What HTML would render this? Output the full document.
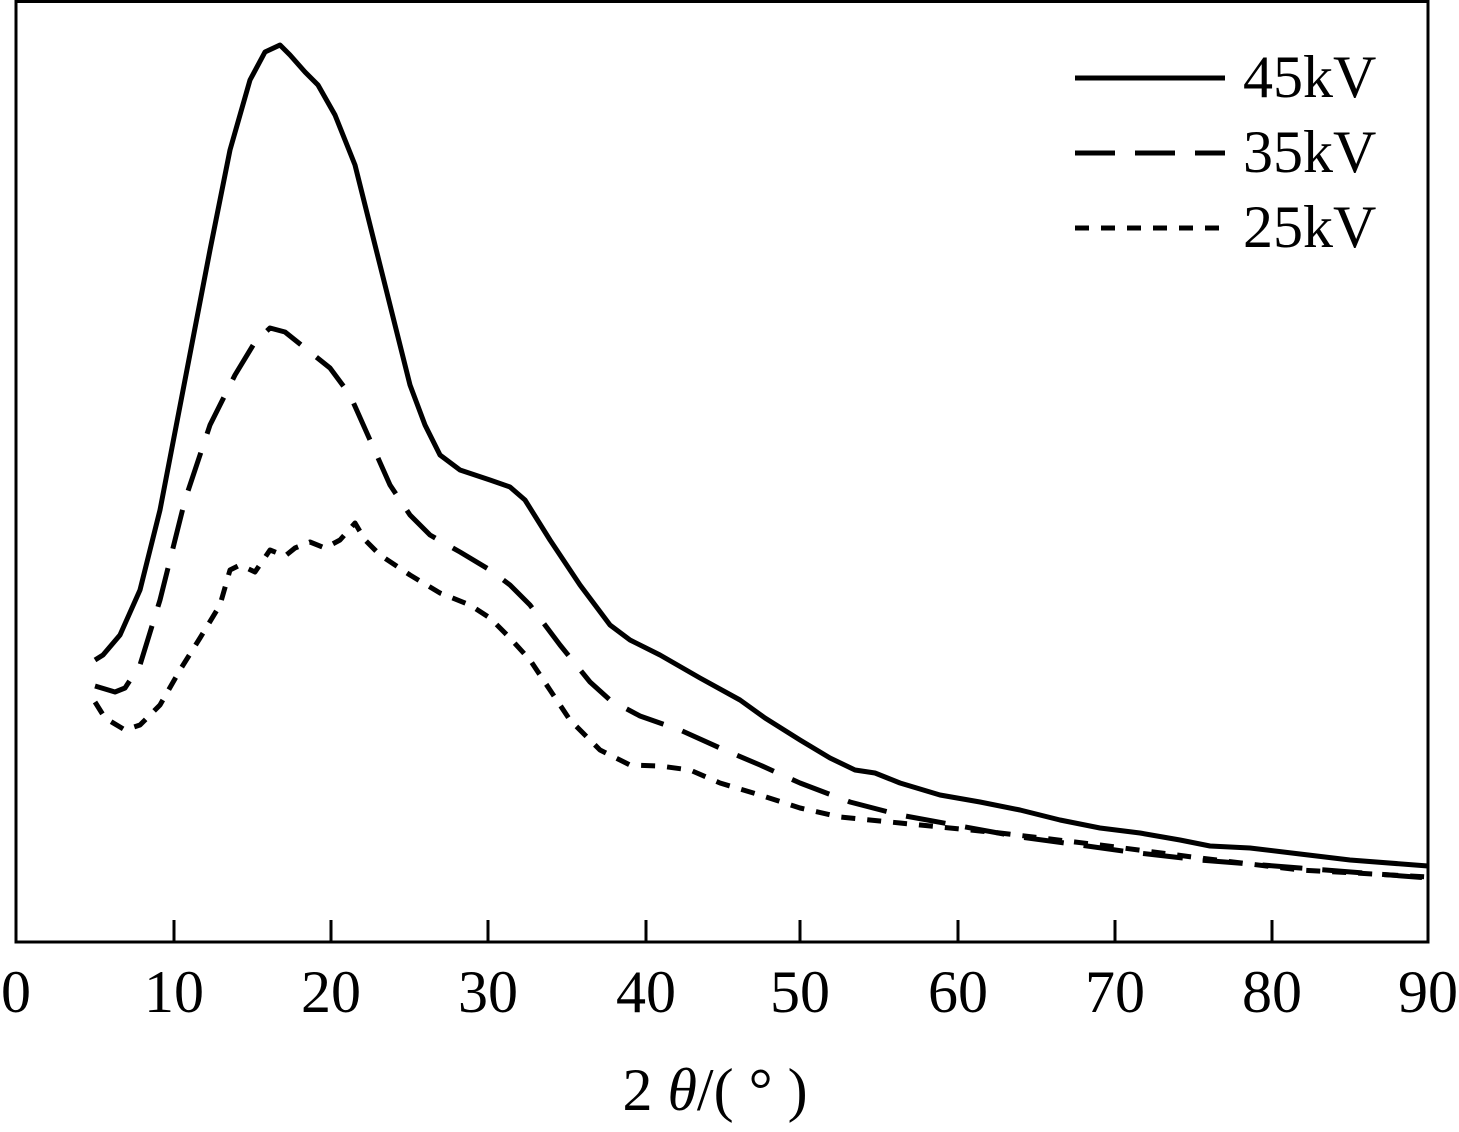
<!DOCTYPE html>
<html><head><style>body{margin:0;background:#fff}</style></head><body>
<svg width="1459" height="1127" xmlns="http://www.w3.org/2000/svg" font-family="Liberation Serif, serif">
<rect x="16" y="1.5" width="1412" height="940.5" fill="none" stroke="#000" stroke-width="3"/>
<g stroke="#000" stroke-width="3">
<line x1="174" y1="920" x2="174" y2="942"/><line x1="331" y1="920" x2="331" y2="942"/><line x1="488" y1="920" x2="488" y2="942"/><line x1="646" y1="920" x2="646" y2="942"/><line x1="800" y1="920" x2="800" y2="942"/><line x1="958" y1="920" x2="958" y2="942"/><line x1="1115" y1="920" x2="1115" y2="942"/><line x1="1272" y1="920" x2="1272" y2="942"/>
</g>
<g font-size="60" text-anchor="middle" fill="#000">
<text x="16" y="1012">0</text><text x="174" y="1012">10</text><text x="331" y="1012">20</text><text x="488" y="1012">30</text><text x="646" y="1012">40</text><text x="800" y="1012">50</text><text x="958" y="1012">60</text><text x="1115" y="1012">70</text><text x="1272" y="1012">80</text><text x="1428" y="1012">90</text>
<text x="715" y="1110">2 <tspan font-style="italic">θ</tspan>/( ° )</text>
</g>
<g fill="none" stroke="#000" stroke-width="5" stroke-linejoin="round">
<polyline points="95,660 103,655 120,635 140,590 160,510 185,380 210,250 230,150 250,80 265,52 280,45 290,55 305,72 318,85 335,115 355,165 370,225 390,305 410,385 425,425 440,455 460,470 490,480 510,487 525,500 550,540 580,585 610,625 630,640 660,655 700,678 740,700 765,718 800,740 830,758 855,770 875,773 900,783 940,795 980,802 1020,810 1060,820 1100,828 1140,833 1180,840 1210,846 1250,848 1300,854 1350,860 1428,866"/>
<polyline stroke-dasharray="40,20" points="95,686 115,692 125,688 140,665 160,600 185,500 210,425 235,375 255,342 270,328 285,332 305,348 330,368 350,395 370,440 390,485 410,515 430,535 460,552 490,570 510,585 530,605 560,645 590,682 610,700 640,716 680,730 720,748 760,765 800,783 850,802 900,815 960,826 1020,837 1080,845 1130,852 1200,860 1300,868 1428,878"/>
<polyline stroke-dasharray="14,12" points="95,702 105,718 125,730 140,725 160,705 180,670 200,638 220,605 230,570 240,565 255,572 270,550 285,556 295,548 310,542 325,548 340,540 355,523 365,540 380,555 410,575 440,593 470,605 490,618 510,638 530,660 550,690 570,720 600,750 630,765 660,766 690,770 720,783 760,795 800,808 840,817 900,823 1000,833 1100,845 1200,858 1300,870 1428,877"/>
<line x1="1075" y1="78" x2="1225" y2="78"/>
<line x1="1075" y1="153" x2="1225" y2="153" stroke-dasharray="40,20"/>
<line x1="1075" y1="228" x2="1225" y2="228" stroke-dasharray="14,12"/>
</g>
<g font-size="60" fill="#000">
<text x="1243" y="97">45kV</text><text x="1243" y="172">35kV</text><text x="1243" y="247">25kV</text>
</g>
</svg>
</body></html>
